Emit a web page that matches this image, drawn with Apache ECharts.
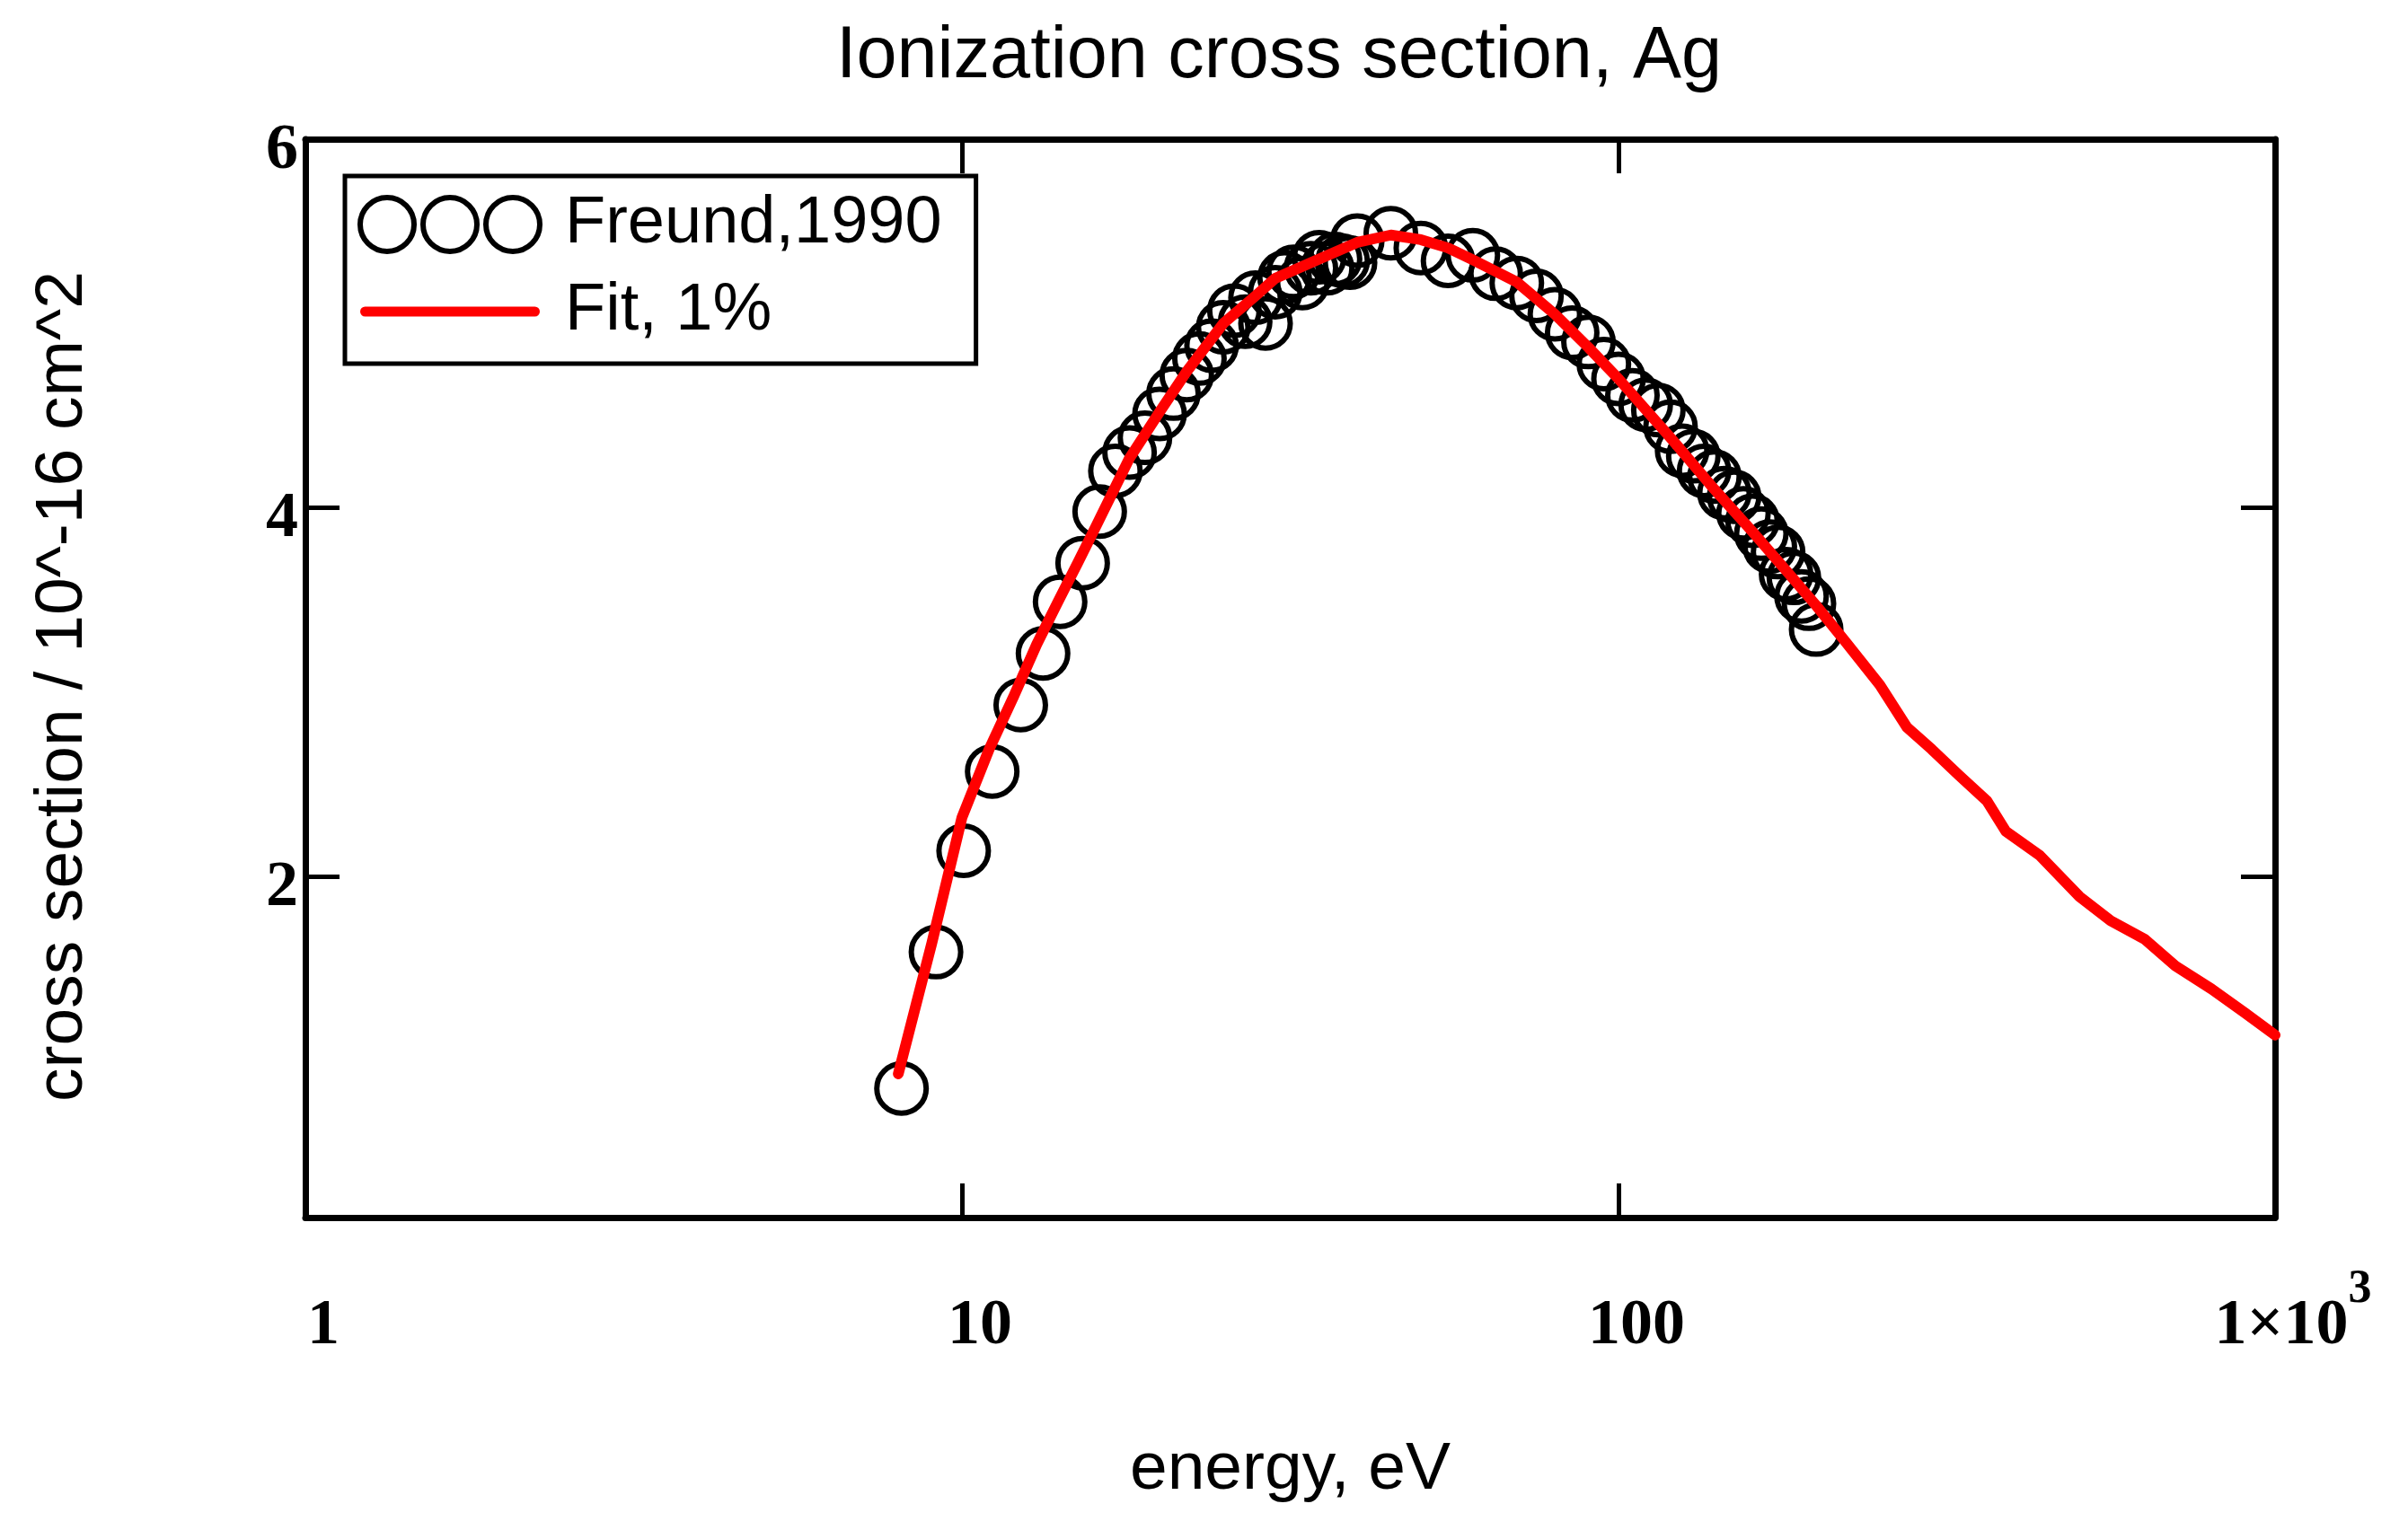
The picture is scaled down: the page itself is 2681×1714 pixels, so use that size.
<!DOCTYPE html>
<html>
<head>
<meta charset="utf-8">
<script src="https://cdn.jsdelivr.net/npm/echarts@6/dist/echarts.min.js"></script>
<style>
html,body{margin:0;padding:0;background:#fff;}
#chart{width:2681px;height:1714px;}
</style>
</head>
<body>
<div id="chart"></div>
<script>
// Measured data (Freund, 1990)
var dataE = [8.09,9.13,10.06,11.12,12.29,13.29,14.11,15.27,16.21,17.13,18,19,20,21,22,23,24,25,26,27,28,29,30,31,32,33,34,35,36,37,38,39,40,45,50,55,60,65,70,75,80,85,90,95,100,105,110,115,120,125,130,135,140,145,150,155,160,165,170,175,180,185,190,195,200];
var dataVal = [0.85,1.59,2.14,2.57,2.93,3.21,3.49,3.70,3.98,4.20,4.30,4.38,4.51,4.62,4.72,4.81,4.88,4.98,5.07,5.01,5.14,5.00,5.17,5.25,5.28,5.22,5.30,5.36,5.30,5.35,5.34,5.33,5.45,5.49,5.41,5.34,5.37,5.27,5.22,5.15,5.05,4.95,4.90,4.78,4.70,4.61,4.56,4.53,4.44,4.31,4.28,4.20,4.17,4.08,4.06,3.97,3.93,3.86,3.79,3.76,3.64,3.62,3.52,3.48,3.34];
// Fit curve
var fitE = [8,9,10,11,12,13,14,15,16,18,20,22,25,28,30,35,40,45,50,55,60,70,80,90,100,120,140,160,180,200,221,250,275,300,330,364,389,438,504,562,633,705,800,900,1000];
var fitVal = [0.93,1.64,2.32,2.69,2.98,3.26,3.49,3.70,3.90,4.27,4.52,4.74,5.00,5.15,5.245,5.35,5.44,5.48,5.455,5.41,5.345,5.225,5.05,4.87,4.70,4.38,4.10,3.87,3.66,3.47,3.28,3.04,2.81,2.69,2.55,2.41,2.245,2.115,1.89,1.76,1.66,1.515,1.39,1.26,1.14];
// Tick labels
var yTickValues = [2,4,6];
var yInnerTicks = [2,4];
var titleText = 'Ionization cross section, Ag';
var xName = 'energy, eV';
var yName = 'cross section / 10^-16 cm^2';
var seriesNames = ['Freund,1990','Fit, 1%'];

var scatterPts = dataE.map(function(e,i){return [e,dataVal[i]];});
var fitPts = fitE.map(function(e,i){return [e,fitVal[i]];});

var sans = 'Liberation Sans, Arial, sans-serif';
var serif = 'Liberation Serif, Times New Roman, serif';
var threeCircles = 'path://M0,30 A30,30 0 1,0 60,30 A30,30 0 1,0 0,30 Z M70,30 A30,30 0 1,0 130,30 A30,30 0 1,0 70,30 Z M140,30 A30,30 0 1,0 200,30 A30,30 0 1,0 140,30 Z';
var redBar = 'path://M5.5,0 L194.5,0 A5.5,5.5 0 0,1 194.5,11 L5.5,11 A5.5,5.5 0 0,1 5.5,0 Z';

var chart = echarts.init(document.getElementById('chart'), null, {renderer:'canvas'});
var axisLineStyle = {color:'#000', width:7};
var tickStyle = {color:'#000', width:5};

var option = {
  backgroundColor:'#fff',
  animation:false,
  title:{
    text:titleText, left:926, top:18,
    textStyle:{fontFamily:sans, fontSize:81, fontWeight:'normal', color:'#000'}
  },
  legend:{
    orient:'vertical', left:384, top:196,
    padding:[17,38,21,14],
    borderColor:'#000', borderWidth:5, borderRadius:0,
    itemWidth:200, itemHeight:60, itemGap:23, symbolKeepAspect:true,
    textStyle:{fontFamily:sans, fontSize:74, color:'#000', padding:[0,0,0,23]},
    data:[
      {name:seriesNames[0], icon:threeCircles, itemStyle:{color:'rgba(0,0,0,0)', borderColor:'#000', borderWidth:6}},
      {name:seriesNames[1], icon:redBar, itemStyle:{color:'#ff0000', borderWidth:0}}
    ]
  },
  grid:{left:340, right:148, top:155, bottom:358, containLabel:false},
  xAxis:[
    {
      type:'log', logBase:10, min:1, max:1000, position:'bottom',
      name:xName, nameLocation:'middle', nameGap:244,
      nameTextStyle:{fontFamily:sans, fontSize:75, color:'#000'},
      axisLine:{show:true, lineStyle:axisLineStyle},
      axisTick:{show:true, inside:true, length:38, lineStyle:tickStyle},
      minorTick:{show:false},
      splitLine:{show:false},
      axisLabel:{
        show:true, margin:55, color:'#000', padding:[0,0,0,40],
        formatter:function(v){
          if (Math.abs(v-1000) < 1e-6) return '{p|\u200b}{b|1\u00d710}{s|3}';
          return '{p|\u200b}{b|' + Math.round(v) + '}';
        },
        rich:{
          p:{fontSize:10, lineHeight:102},
          b:{fontFamily:serif, fontWeight:'bold', fontSize:72, lineHeight:72, verticalAlign:'bottom', color:'#000'},
          s:{fontFamily:serif, fontWeight:'bold', fontSize:52, lineHeight:52, verticalAlign:'top', color:'#000'}
        }
      }
    },
    {
      type:'log', logBase:10, min:1, max:1000, position:'top',
      axisLine:{show:true, lineStyle:axisLineStyle},
      axisTick:{show:true, inside:true, length:38, lineStyle:tickStyle},
      axisLabel:{show:false}, splitLine:{show:false}
    }
  ],
  yAxis:[
    {
      type:'value', min:0.15, max:6, position:'left',
      name:yName, nameLocation:'middle', nameGap:232, nameRotate:90,
      nameTextStyle:{fontFamily:sans, fontSize:75, color:'#000', padding:[0,18,0,0]},
      axisLine:{show:true, lineStyle:axisLineStyle},
      axisTick:{show:true, inside:true, length:38, lineStyle:tickStyle, customValues:yInnerTicks},
      splitLine:{show:false},
      axisLabel:{
        show:true, margin:8, customValues:yTickValues, color:'#000',
        fontFamily:serif, fontWeight:'bold', fontSize:72,
        verticalAlign:'top', lineHeight:26
      }
    },
    {
      type:'value', min:0.15, max:6, position:'right',
      axisLine:{show:true, lineStyle:axisLineStyle},
      axisTick:{show:true, inside:true, length:38, lineStyle:tickStyle, customValues:yInnerTicks},
      axisLabel:{show:false}, splitLine:{show:false}
    }
  ],
  series:[
    {
      name:seriesNames[0], type:'scatter', xAxisIndex:0, yAxisIndex:0,
      data:scatterPts, symbol:'circle', symbolSize:55,
      itemStyle:{color:'rgba(0,0,0,0)', borderColor:'#000', borderWidth:6, opacity:1},
      emphasis:{disabled:true}, z:2
    },
    {
      name:seriesNames[1], type:'line', xAxisIndex:0, yAxisIndex:0,
      data:fitPts, showSymbol:false, symbol:'none', smooth:false,
      lineStyle:{color:'#ff0000', width:12, cap:'round', join:'round'},
      itemStyle:{color:'#ff0000'},
      emphasis:{disabled:true}, z:3
    }
  ]
};
chart.setOption(option);
</script>
</body>
</html>
